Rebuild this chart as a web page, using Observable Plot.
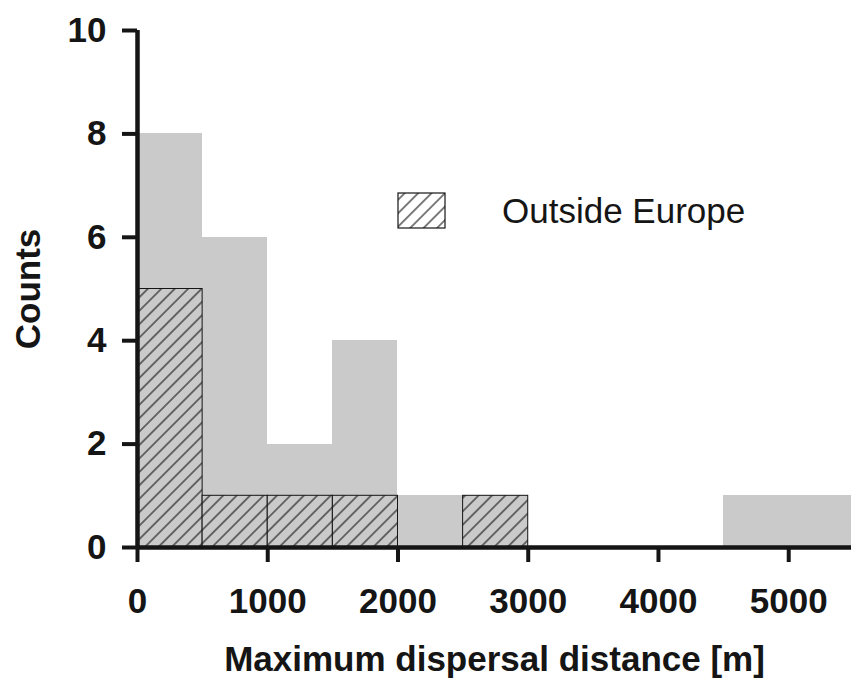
<!DOCTYPE html>
<html><head><meta charset="utf-8">
<script src="https://cdn.jsdelivr.net/npm/d3@7"></script>
<script src="https://cdn.jsdelivr.net/npm/@observablehq/plot@0.6"></script>
<style>
body{margin:0;background:#fff;}
#chart{position:relative;width:851px;height:681px;overflow:hidden}
</style>
</head><body><div id="chart"></div>
<script>
// Histogram bins (start of each 500 m bin)
const binStarts = [0, 500, 1000, 1500, 2000, 2500, 3000, 3500, 4000, 4500, 5000];
const binWidth = 500;
// All records (grey bars)
const allCounts = [8, 6, 2, 4, 1, 1, 0, 0, 0, 1, 1];
// Outside Europe (hatched bars)
const outsideCounts = [5, 1, 1, 1, 0, 1, 0, 0, 0, 0, 0];
const xTicks = [0, 1000, 2000, 3000, 4000, 5000];
const yTicks = [0, 2, 4, 6, 8, 10];
const xLabel = "Maximum dispersal distance [m]";
const yLabel = "Counts";
const legendLabel = "Outside Europe";

const allBins = binStarts.map((x, i) => ({x1: x, x2: x + binWidth, count: allCounts[i]})).filter(d => d.count > 0);
const outBins = binStarts.map((x, i) => ({x1: x, x2: x + binWidth, count: outsideCounts[i]})).filter(d => d.count > 0);

const ink = "#151515";
const grey = "#cacaca";

const plot = Plot.plot({
  width: 851, height: 681,
  marginLeft: 137, marginRight: 0, marginTop: 30, marginBottom: 134,
  style: {fontFamily: "'Liberation Sans', Arial, sans-serif", fontSize: "35px", fontWeight: "bold", color: ink, background: "#fff"},
  x: {domain: [0, 5482]},
  y: {domain: [0, 10]},
  marks: [
    Plot.rectY(allBins, {x1: "x1", x2: "x2", y: "count", fill: grey, clip: true, shapeRendering: "crispEdges"}),
    Plot.rectY(outBins, {x1: "x1", x2: "x2", y: "count", fill: "url(#hatch)", stroke: ink, strokeWidth: 1}),
    Plot.ruleX([0], {stroke: ink, strokeWidth: 4.5}),
    Plot.ruleY([0], {stroke: ink, strokeWidth: 4.5}),
    Plot.axisX({ticks: xTicks, tickSize: 15, tickPadding: 26, strokeWidth: 4, stroke: ink, tickFormat: d => String(d),
      label: xLabel, labelAnchor: "center", labelOffset: 123, labelArrow: "none"}),
    Plot.axisY({ticks: yTicks, tickSize: 15, tickPadding: 16, strokeWidth: 4, stroke: ink,
      label: yLabel, labelAnchor: "center", labelOffset: 122, labelArrow: "none"})
  ]
});

const svg = d3.select(plot);
const defs = svg.insert("defs", ":first-child");
function hatch(id, bg) {
  const s = 9.5;
  const p = defs.append("pattern").attr("id", id).attr("patternUnits", "userSpaceOnUse")
    .attr("width", s).attr("height", s).attr("patternTransform", "rotate(45)");
  p.append("rect").attr("width", s).attr("height", s).attr("fill", bg);
  p.append("line").attr("x1", s / 2).attr("x2", s / 2).attr("y1", -1).attr("y2", s + 1)
    .attr("stroke", ink).attr("stroke-width", 1.1);
}
hatch("hatch", grey);
hatch("hatchLegend", "#fff");

// Legend
const lg = svg.append("g");
lg.append("rect").attr("x", 398).attr("y", 193).attr("width", 47).attr("height", 35)
  .attr("fill", "url(#hatchLegend)").attr("stroke", ink).attr("stroke-width", 1.2);
lg.append("text").attr("x", 502).attr("y", 223).attr("font-size", 35).attr("font-weight", "normal")
  .attr("text-anchor", "start").attr("fill", ink).text(legendLabel);

document.getElementById("chart").appendChild(plot);
</script>
</body></html>
